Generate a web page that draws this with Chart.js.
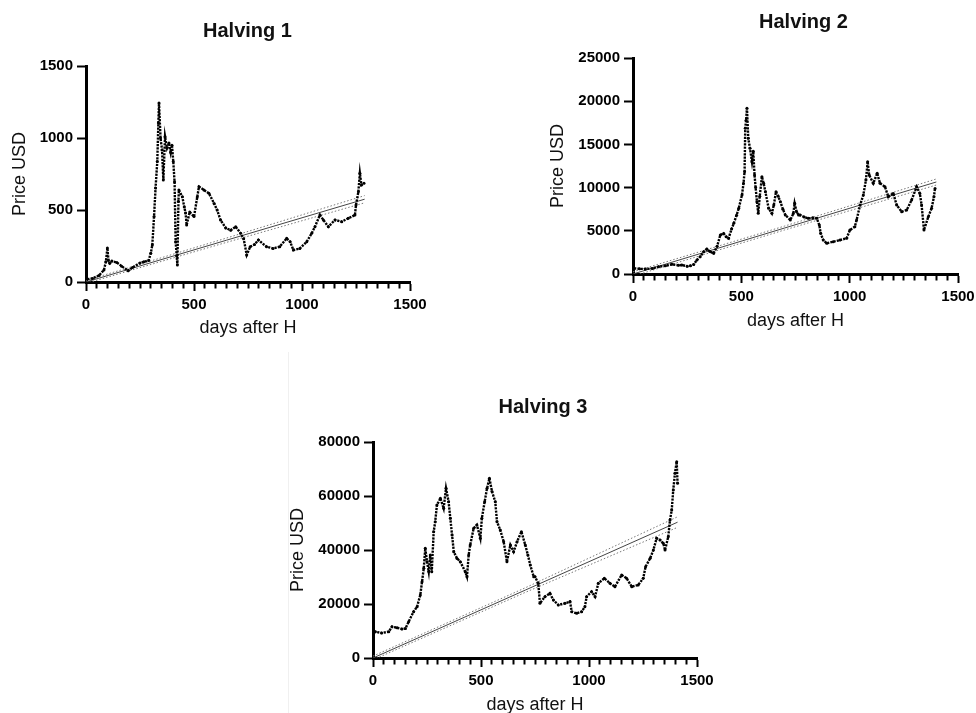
<!DOCTYPE html>
<html>
<head>
<meta charset="utf-8">
<script src="https://cdn.jsdelivr.net/npm/chart.js"></script>
<style>
  html, body { margin: 0; padding: 0; background: #fff; overflow: hidden; }
  body { width: 976px; height: 713px; position: relative; }
  .box { position: absolute; }
  .sep { position: absolute; left: 288px; top: 352px; width: 1px; height: 361px; background: #f0f0f0; }
</style>
</head>
<body>
<div class="sep"></div>
<div class="box" style="left:0;top:0;width:495px;height:342px"><canvas id="h1"></canvas></div>
<div class="box" style="left:538px;top:0;width:531px;height:334px"><canvas id="h2"></canvas></div>
<div class="box" style="left:278px;top:380px;width:530px;height:338px"><canvas id="h3"></canvas></div>
<script>
// Halving 1 - days after halving / price in USD
const h1Days  = [6, 30, 60, 83, 92, 99, 104, 110, 120, 143, 165, 195, 215, 250, 268, 290, 300, 307, 315, 322, 330, 335, 338, 345, 352, 358, 366, 375, 384, 392, 398, 404, 410, 415, 420, 423, 428, 430, 446, 455, 461, 466, 480, 500, 515, 523, 546, 569, 593, 607, 623, 647, 670, 693, 716, 730, 744, 760, 780, 798, 836, 866, 897, 929, 945, 960, 990, 1022, 1045, 1060, 1083, 1099, 1122, 1153, 1184, 1214, 1245, 1250, 1261, 1268, 1275, 1287];
const h1Price = [20, 25, 45, 83, 140, 236, 150, 130, 145, 135, 110, 78, 100, 132, 140, 150, 200, 257, 454, 652, 836, 1104, 1243, 1000, 917, 708, 1009, 930, 965, 900, 950, 836, 697, 280, 180, 118, 560, 639, 592, 520, 479, 396, 486, 454, 590, 662, 639, 616, 546, 500, 430, 375, 360, 384, 338, 300, 188, 245, 260, 292, 245, 233, 245, 303, 280, 222, 233, 280, 338, 384, 465, 431, 384, 431, 419, 442, 465, 535, 627, 755, 674, 685];
const h1FitDays = [0, 650, 1290];
const h1Fit     = [0, 290, 575];
const h1Upper   = [10, 305, 600];
const h1Lower   = [-10, 275, 550];

// Halving 2
const h2Days  = [5, 30, 57, 90, 118, 150, 180, 210, 226, 250, 265, 280, 295, 310, 326, 341, 355, 372, 388, 403, 418, 430, 441, 455, 465, 478, 488, 503, 510, 515, 518, 522, 526, 532, 540, 549, 555, 561, 566, 572, 578, 585, 595, 603, 611, 626, 641, 650, 660, 670, 680, 692, 703, 726, 740, 746, 755, 764, 771, 790, 809, 830, 848, 860, 866, 878, 894, 924, 955, 986, 1001, 1024, 1032, 1048, 1063, 1075, 1083, 1090, 1109, 1127, 1140, 1163, 1178, 1201, 1217, 1240, 1263, 1286, 1309, 1324, 1332, 1343, 1363, 1378, 1389, 1394];
const h2Price = [650, 600, 580, 650, 850, 950, 1120, 1000, 1040, 900, 950, 1100, 1620, 2000, 2580, 2890, 2600, 2390, 3200, 4510, 4700, 4300, 4130, 5200, 5860, 6800, 7600, 9140, 10500, 11840, 16860, 17800, 19170, 15700, 14540, 13000, 14200, 11450, 10000, 8370, 7020, 9000, 11260, 10500, 9520, 7600, 7020, 8000, 9520, 9000, 8370, 7500, 6830, 6250, 7000, 8180, 7200, 6830, 6830, 6600, 6440, 6500, 6440, 5670, 4710, 3930, 3550, 3740, 3930, 4130, 5090, 5480, 6250, 7980, 9140, 10880, 13000, 11450, 10500, 11650, 10500, 10100, 8940, 9330, 7980, 7210, 7400, 8560, 10100, 9330, 7980, 5090, 6630, 7600, 8940, 9910];
const h2FitDays = [0, 700, 1400];
const h2Fit     = [0, 5325, 10650];
const h2Upper   = [250, 5550, 11000];
const h2Lower   = [-250, 5100, 10300];

// Halving 3
const h3Days  = [5, 11, 40, 73, 88, 111, 134, 150, 165, 188, 204, 219, 227, 235, 242, 250, 258, 265, 272, 281, 288, 296, 312, 327, 338, 350, 358, 366, 374, 389, 404, 427, 435, 443, 450, 466, 481, 497, 504, 517, 528, 539, 551, 566, 574, 589, 605, 620, 636, 651, 667, 687, 705, 717, 728, 744, 750, 765, 773, 796, 819, 835, 858, 889, 912, 920, 943, 966, 981, 989, 1012, 1028, 1043, 1071, 1097, 1120, 1151, 1174, 1198, 1228, 1251, 1262, 1283, 1298, 1313, 1329, 1344, 1352, 1367, 1375, 1383, 1390, 1398, 1406, 1410];
const h3Price = [9500, 9740, 9260, 9740, 11600, 11230, 10740, 10900, 13450, 17150, 19000, 23340, 28260, 33220, 40630, 35680, 32000, 38150, 31960, 46780, 50490, 56670, 59150, 55440, 62860, 57900, 51720, 45560, 39370, 36890, 35680, 31960, 30110, 38150, 41850, 48030, 49270, 44330, 51720, 57900, 62860, 66560, 61630, 57900, 50490, 47400, 43090, 35680, 41850, 39370, 43090, 46780, 41850, 38150, 34450, 30110, 30110, 27660, 20260, 22710, 23950, 21480, 19630, 20260, 20900, 17150, 16530, 17150, 19000, 22710, 24560, 22710, 27660, 29520, 27660, 26410, 30740, 29520, 26410, 27040, 29520, 33820, 36930, 40000, 44330, 43700, 42470, 40000, 44950, 51120, 54820, 62230, 68410, 72710, 64700];
const h3FitDays = [0, 705, 1410];
const h3Fit     = [0, 25150, 50300];
const h3Upper   = [700, 26000, 52300];
const h3Lower   = [-700, 24300, 48400];

const FONT = "'Liberation Sans', Arial, sans-serif";
Chart.defaults.font.family = FONT;
Chart.defaults.color = '#000';

function toXY(xs, ys) {
  return xs.map((x, i) => ({ x: x, y: ys[i] }));
}

function band(xs, ys) {
  return { data: toXY(xs, ys), showLine: true, borderColor: '#777', borderWidth: 1, borderDash: [1.5, 2], pointRadius: 0 };
}

function drawHalving(id, o) {
  new Chart(document.getElementById(id), {
    type: 'scatter',
    data: {
      datasets: [
        // dashed trail so the daily prices read as a run of dots
        { data: toXY(o.days, o.price), showLine: true, borderColor: '#000', borderWidth: 2.4, borderDash: [2.2, 1.1],
          pointRadius: 1.5, pointBackgroundColor: '#000', pointBorderWidth: 0 },
        { data: toXY(o.fitDays, o.fit), showLine: true, borderColor: '#444', borderWidth: 1, pointRadius: 0 },
        band(o.fitDays, o.upper),
        band(o.fitDays, o.lower)
      ]
    },
    options: {
      responsive: true,
      maintainAspectRatio: false,
      animation: false,
      layout: { padding: 0 },
      plugins: {
        legend: { display: false },
        tooltip: { enabled: false },
        title: {
          display: true,
          text: o.title,
          color: '#111',
          font: { size: 20, weight: 'bold' },
          padding: { top: o.titleTop, bottom: o.titleBottom }
        }
      },
      scales: {
        x: {
          type: 'linear',
          min: 0, max: 1500,
          afterFit: s => { s.height = 60; },
          border: { display: true, width: 3, color: '#000' },
          grid: {
            drawOnChartArea: false, drawTicks: true, tickLength: 9, tickWidth: 2, tickColor: '#000',
            tickBorderDash: c => (c.tick && c.tick.value % 500 === 0) ? [] : [4.5, 20]
          },
          ticks: {
            stepSize: 50, autoSkip: false, maxRotation: 0, padding: 5,
            font: { size: 15, weight: 'bold' },
            callback: v => v % 500 === 0 ? String(v) : ''
          },
          title: { display: true, text: 'days after H', color: '#111', font: { size: 18 }, padding: { top: 0, bottom: o.xTitleBottom } }
        },
        y: {
          min: 0, max: o.yMax,
          afterFit: s => { s.width = o.yWidth; },
          border: { display: true, width: 3, color: '#000' },
          grid: { drawOnChartArea: false, drawTicks: true, tickLength: 9, tickWidth: 2, tickColor: '#000' },
          ticks: { stepSize: o.yStep, padding: 4, font: { size: 15, weight: 'bold' }, callback: v => String(v) },
          title: { display: true, text: 'Price USD', color: '#111', font: { size: 18 }, padding: { top: 9, bottom: 0 } }
        },
        // empty right-hand box so the title centres over the whole graph
        side: {
          position: 'right',
          afterFit: s => { s.width = o.padRight; },
          border: { display: false },
          grid: { display: false },
          ticks: { display: false }
        }
      }
    }
  });
}

drawHalving('h1', { title: 'Halving 1', days: h1Days, price: h1Price, fitDays: h1FitDays, fit: h1Fit, upper: h1Upper, lower: h1Lower,
  yMax: 1500, yStep: 500, yWidth: 86, padRight: 85, titleTop: 19, titleBottom: 23, xTitleBottom: 3 });
drawHalving('h2', { title: 'Halving 2', days: h2Days, price: h2Price, fitDays: h2FitDays, fit: h2Fit, upper: h2Upper, lower: h2Lower,
  yMax: 25000, yStep: 5000, yWidth: 95, padRight: 111, titleTop: 10, titleBottom: 24, xTitleBottom: 2.5 });
drawHalving('h3', { title: 'Halving 3', days: h3Days, price: h3Price, fitDays: h3FitDays, fit: h3Fit, upper: h3Upper, lower: h3Lower,
  yMax: 80000, yStep: 20000, yWidth: 95, padRight: 111, titleTop: 15, titleBottom: 23, xTitleBottom: 2 });
</script>
</body>
</html>
